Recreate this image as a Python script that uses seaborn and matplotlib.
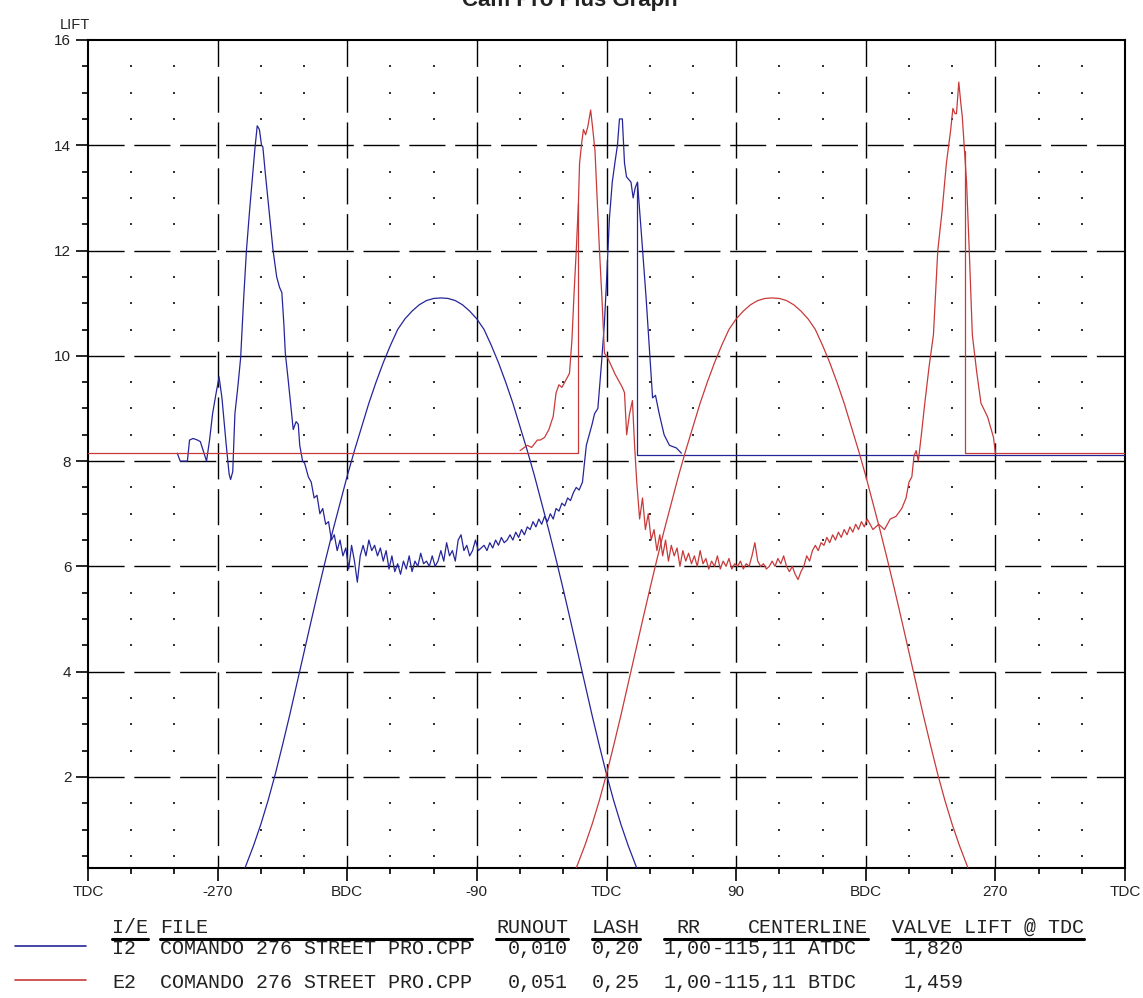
import matplotlib
matplotlib.use('Agg')
import numpy as np
import pandas as pd
import matplotlib.pyplot as plt
import seaborn as sns
from matplotlib.lines import Line2D

# eixo x: graus de manivela, y: levantamento
X_TICKS = [-360, -270, -180, -90, 0, 90, 180, 270, 360]
X_LABELS = ['TDC', '-270', 'BDC', '-90', 'TDC', '90', 'BDC', '270', 'TDC']
Y_TICKS = [2, 4, 6, 8, 10, 12, 14, 16]

# curva de levantamento I2 (azul)
BLUE_LIFT_X = [-251, -245, -240, -235, -230, -225, -220, -215, -210, -205, -200, -195, -190, -185,
               -180, -175, -170, -165, -160, -155, -150, -145, -140, -135, -130, -125, -120, -115,
               -110, -105, -100, -95, -90, -85, -80, -75, -70, -65, -60, -55, -50, -45, -40, -35,
               -30, -25, -20, -15, -10, -5, 0, 5, 10, 15, 21]
BLUE_LIFT_Y = [0.27, 0.7, 1.1, 1.55, 2.05, 2.6, 3.17, 3.77, 4.37, 4.97, 5.56, 6.13, 6.68, 7.2,
               7.72, 8.2, 8.65, 9.1, 9.5, 9.87, 10.2, 10.5, 10.7, 10.85, 10.97, 11.05, 11.09, 11.1,
               11.09, 11.05, 10.97, 10.85, 10.7, 10.5, 10.2, 9.87, 9.5, 9.1, 8.65, 8.2, 7.72, 7.2,
               6.68, 6.13, 5.56, 4.97, 4.37, 3.77, 3.17, 2.6, 2.05, 1.55, 1.1, 0.7, 0.27]

# curva de levantamento E2 (vermelha)
RED_LIFT_X = [-21, -15, -10, -5, 0, 5, 10, 15, 20, 25, 30, 35, 40, 45, 50, 55, 60, 65, 70, 75,
              80, 85, 90, 95, 100, 105, 110, 115, 120, 125, 130, 135, 140, 145, 150, 155, 160,
              165, 170, 175, 180, 185, 190, 195, 200, 205, 210, 215, 220, 225, 230, 235, 240,
              245, 251]
RED_LIFT_Y = [0.27, 0.7, 1.1, 1.55, 2.05, 2.6, 3.17, 3.77, 4.37, 4.97, 5.56, 6.13, 6.68, 7.2,
              7.72, 8.2, 8.65, 9.1, 9.5, 9.87, 10.2, 10.5, 10.7, 10.85, 10.97, 11.05, 11.09, 11.1,
              11.09, 11.05, 10.97, 10.85, 10.7, 10.5, 10.2, 9.87, 9.5, 9.1, 8.65, 8.2, 7.72, 7.2,
              6.68, 6.13, 5.56, 4.97, 4.37, 3.77, 3.17, 2.6, 2.05, 1.55, 1.1, 0.7, 0.27]

# traco medido I2
BLUE_TRACE_X = [-298, -296, -291, -289.5, -287, -284, -282, -280, -277.7, -275.6, -273.5, -271, -269,
                -267, -266, -264, -262, -261, -259.5, -258, -256, -254, -252, -250, -247.6, -245.5,
                -244, -242.5, -241, -239.5, -238.6, -237, -235, -233, -231.5, -229, -227, -225.4,
                -224, -223, -221, -219, -217.5, -215.5, -214, -213, -211, -209.6, -207, -205, -203,
                -201, -199, -197, -195, -193, -191, -189, -187, -185, -183, -181, -179, -177, -175,
                -173, -171, -169, -167, -165, -163, -161, -159, -157, -155, -153, -151, -149, -147,
                -145, -143, -141, -139, -137, -135, -133, -131, -129, -127, -125, -123, -121, -119,
                -117, -115, -113, -111, -109, -107, -105, -103, -101, -99, -97, -95, -93, -91, -89,
                -87, -85, -83, -81, -79, -77, -75, -73, -71, -69, -67, -65, -63, -61, -59, -57, -55,
                -53, -51, -49, -47, -45, -43, -41, -39, -37, -35, -33, -31, -29, -27, -25, -23, -21,
                -19, -16.7, -14, -12, -10, -8.3, -6, -3.5, -1.5, 0, 2, 4, 6, 7.6, 9, 11, 12.5, 13.9,
                15.5, 17, 18.5, 20, 21.5, 24, 27.5, 30, 32, 34, 36.6, 40, 43.7, 48.5, 52]
BLUE_TRACE_Y = [8.15, 8.0, 8.0, 8.4, 8.43, 8.4, 8.37, 8.2, 8.0, 8.4, 8.9, 9.3, 9.6,
                9.2, 8.9, 8.3, 7.75, 7.65, 7.8, 8.9, 9.4, 9.97, 11.05, 12.0, 12.83, 13.5,
                13.97, 14.37, 14.3, 14.0, 13.97, 13.5, 12.96, 12.4, 12.0, 11.5, 11.3, 11.2,
                10.6, 10.05, 9.54, 9.0, 8.6, 8.75, 8.7, 8.3, 8.0, 7.96, 7.7, 7.6, 7.3,
                7.35, 7.0, 7.1, 6.8, 6.85, 6.5, 6.6, 6.3, 6.5, 6.2, 6.35, 5.95, 6.4, 6.1,
                5.7, 6.2, 6.4, 6.2, 6.5, 6.3, 6.4, 6.2, 6.35, 6.1, 6.3, 5.95, 6.2, 5.9,
                6.05, 5.85, 6.1, 5.95, 6.2, 5.9, 6.1, 6.0, 6.25, 6.05, 6.1, 6.0, 6.2, 6.0,
                6.1, 6.3, 6.1, 6.45, 6.2, 6.3, 6.1, 6.5, 6.6, 6.3, 6.4, 6.2, 6.3, 6.5, 6.3,
                6.35, 6.4, 6.3, 6.45, 6.35, 6.5, 6.4, 6.55, 6.45, 6.5, 6.6, 6.5, 6.65, 6.55, 6.7, 6.6, 6.75,
                6.7, 6.85, 6.75, 6.9, 6.8, 6.95, 6.85, 7.0, 6.9, 7.1, 7.05, 7.2, 7.15, 7.3, 7.25, 7.4, 7.5,
                7.45, 7.6, 8.3, 8.5, 8.7, 8.9, 9.0, 9.85, 10.6, 11.4, 12.6, 13.3, 13.7, 14.0, 14.5, 14.5, 13.66, 13.4,
                13.35, 13.3, 13.0, 13.2, 13.3, 12.4, 11.1, 10.06, 9.2, 9.25, 8.9, 8.5, 8.3, 8.25, 8.15]
BLUE_BASE_X = [21.5, 21.5, 360]
BLUE_BASE_Y = [13.3, 8.12, 8.12]

# traco medido E2
RED_TRACE_X = [-60, -55, -52, -48, -46, -43, -40, -37, -35, -33, -31, -29, -27, -25.7, -24, -22.5,
               -21, -19.5, -18.7, -17, -16, -14.5, -13, -11, -9.5, -8, -6.5, -5, -3, -1.4, 1, 3.5,
               6, 9, 11, 12.5, 14, 16, 18, 19.5, 21, 23, 25, 27, 29, 31, 33, 35, 37, 39, 41, 43,
               45, 47, 49, 51, 53, 55, 57, 59, 61, 63, 65, 67, 69, 71, 73, 75, 77, 79, 81, 83, 85,
               87, 89, 91, 93, 95, 97, 99, 101, 103, 105, 107, 109, 111, 113, 115, 117, 119, 121,
               123, 125, 127, 129, 131, 133, 135, 137, 139, 141, 143, 145, 147, 149, 151, 153, 155,
               157, 159, 161, 163, 165, 167, 169, 171, 173, 175, 177, 179, 181, 185, 189, 193, 197,
               201, 205, 208, 210, 212, 213.5, 215, 216.5, 218.6, 221, 224, 227, 230, 233, 236, 239,
               240.5, 242, 243, 244.6, 246, 247, 248.6, 250, 252, 254, 257, 260, 264.6, 268.7, 270]
RED_TRACE_Y = [8.2, 8.3, 8.26, 8.4, 8.4, 8.45, 8.6, 8.85, 9.3, 9.45, 9.4, 9.5, 9.6, 9.67, 10.3, 11.2,
               12.0, 12.9, 13.66, 14.1, 14.3, 14.2, 14.35, 14.67, 14.3, 13.9, 13.0, 12.07, 11.0, 10.05, 9.95, 9.8,
               9.65, 9.5, 9.4, 9.3, 8.5, 8.9, 9.15, 8.3, 7.6, 6.9, 7.3, 6.7, 7.0, 6.5, 6.7, 6.3, 6.6, 6.2, 6.5, 6.1,
               6.4, 6.2, 6.35, 6.0, 6.3, 6.1, 6.25, 6.05, 6.2, 6.0, 6.3, 6.05, 6.15, 5.95, 6.1, 6.0, 6.2, 5.95, 6.1, 6.0, 6.15,
               5.95, 6.05, 6.0, 6.1, 5.95, 6.05, 6.0, 6.2, 6.45, 6.1, 6.0, 6.05, 5.95, 6.0, 6.1, 6.0, 6.15, 6.05,
               6.2, 6.0, 5.9, 6.0, 5.85, 5.75, 5.9, 6.0, 6.2, 6.1, 6.3, 6.4, 6.3, 6.45, 6.4, 6.55, 6.45,
               6.6, 6.5, 6.65, 6.55, 6.7, 6.6, 6.75, 6.65, 6.8, 6.7, 6.85, 6.75, 6.9, 6.7, 6.8, 6.7, 6.9,
               6.95, 7.1, 7.3, 7.6, 7.7, 8.1, 8.2, 8.0, 8.5, 9.1, 9.8, 10.4, 12.0, 12.75, 13.66, 14.3,
               14.7, 14.6, 14.6, 15.2, 14.8, 14.55, 13.9, 13.3, 11.9, 10.4, 9.7, 9.1, 8.84, 8.45, 8.15]
RED_BASE_A_X = [-360, -19.5, -19.5]
RED_BASE_A_Y = [8.15, 8.15, 12.9]
RED_BASE_B_X = [248.6, 248.6, 360]
RED_BASE_B_Y = [13.9, 8.15, 8.15]

# tabela da legenda
HEADERS = ['I/E', 'FILE', 'RUNOUT', 'LASH', 'RR', 'CENTERLINE', 'VALVE LIFT @ TDC']
HEADER_COLS = [0, 4, 32, 40, 47, 53, 65]
UNDERLINE_COLS = [(0, 3), (4, 30), (32, 38), (40, 44), (46, 50), (50, 63), (65, 81)]
ROW_I2 = ['I2', 'COMANDO 276 STREET PRO.CPP', '0,010', '0,20', '1,00', '-115,11 ATDC', '1,820']
ROW_E2 = ['E2', 'COMANDO 276 STREET PRO.CPP', '0,051', '0,25', '1,00', '-115,11 BTDC', '1,459']
ROW_COLS = [0, 4, 33, 40, 46, 50, 66]

BLUE = '#25259a'
RED = '#c83a3a'
W, H = 1143, 998

sns.set_style('white')
plt.rcParams['font.family'] = ['Liberation Sans', 'DejaVu Sans']

fig = plt.figure(figsize=(W / 100, H / 100), dpi=100)
ax = fig.add_axes([88 / W, 1 - 868 / H, (1125 - 88) / W, (868 - 40) / H])
ax.set_xlim(-360, 360)
ax.set_ylim(0.27, 16)

# grade pontilhada
gx = [x for x in range(-330, 360, 30) if x % 90 != 0]
gy = [y for y in np.arange(0.5, 16, 0.5) if y % 2 != 0]
gxx, gyy = np.meshgrid(gx, gy)
ax.scatter(gxx.ravel(), gyy.ravel(), s=2, marker='s', color='#333333', linewidths=0, zorder=1)

# grade principal tracejada
for y in Y_TICKS[:-1]:
    ax.plot([-360, 360], [y, y], color='black', lw=1.0, ls=(0, (26, 7)), zorder=1)
for x in X_TICKS[1:-1]:
    ax.plot([x, x], [16, 0.27], color='black', lw=1.0, ls=(7, (26, 7)), zorder=1)

def line(xs, ys, color):
    sns.lineplot(x=xs, y=ys, ax=ax, color=color, lw=0.9, sort=False, estimator=None, zorder=3)

line(BLUE_LIFT_X, BLUE_LIFT_Y, BLUE)
line(BLUE_TRACE_X, BLUE_TRACE_Y, BLUE)
line(BLUE_BASE_X, BLUE_BASE_Y, BLUE)
line(RED_LIFT_X, RED_LIFT_Y, RED)
line(RED_TRACE_X, RED_TRACE_Y, RED)
line(RED_BASE_A_X, RED_BASE_A_Y, RED)
line(RED_BASE_B_X, RED_BASE_B_Y, RED)

ax.set_xticks(X_TICKS)
ax.set_xticklabels(X_LABELS)
ax.set_xticks(range(-330, 360, 30), minor=True)
ax.set_yticks(Y_TICKS)
ax.set_yticklabels([str(v) for v in Y_TICKS])
ax.set_yticks(np.arange(0.5, 16, 0.5), minor=True)
ax.tick_params(which='major', direction='out', length=9, width=1.2, color='black',
               labelsize=11, labelcolor='#222222', pad=3, bottom=True, left=True)
ax.tick_params(which='minor', direction='out', length=4, width=1.2, color='black',
               bottom=True, left=True)
ax.set_xlabel('')
ax.set_ylabel('')
for s in ax.spines.values():
    s.set_color('black')
    s.set_linewidth(1.5)

fig.text(75 / W, 1 - 25 / H, 'LIFT', ha='center', va='center', fontsize=10.5, color='#222222')
fig.text(570 / W, 1 - 6 / H, 'Cam Pro Plus Graph', ha='center', va='baseline', fontsize=16,
         weight='bold', color='#222222')

# tabela inferior
x0, cw = 112, 12.0
mono = ['Liberation Mono', 'DejaVu Sans Mono']
for txt, c in zip(HEADERS, HEADER_COLS):
    fig.text((x0 + c * cw) / W, 1 - 933 / H, txt, family=mono, fontsize=14.4, va='baseline',
             color='#222222')
for a, b in UNDERLINE_COLS:
    fig.add_artist(Line2D([(x0 + a * cw) / W, (x0 + b * cw) / W], [1 - 939 / H] * 2,
                          color='black', lw=2.2))
for row, yb, color, ly in [(ROW_I2, 954, BLUE, 946), (ROW_E2, 988, RED, 980)]:
    for txt, c in zip(row, ROW_COLS):
        fig.text((x0 + c * cw) / W, 1 - yb / H, txt, family=mono, fontsize=14.4, va='baseline',
                 color='#222222')
    fig.add_artist(Line2D([15 / W, 86 / W], [1 - ly / H] * 2, color=color, lw=1.2))

fig.savefig('out.png', dpi=100)
